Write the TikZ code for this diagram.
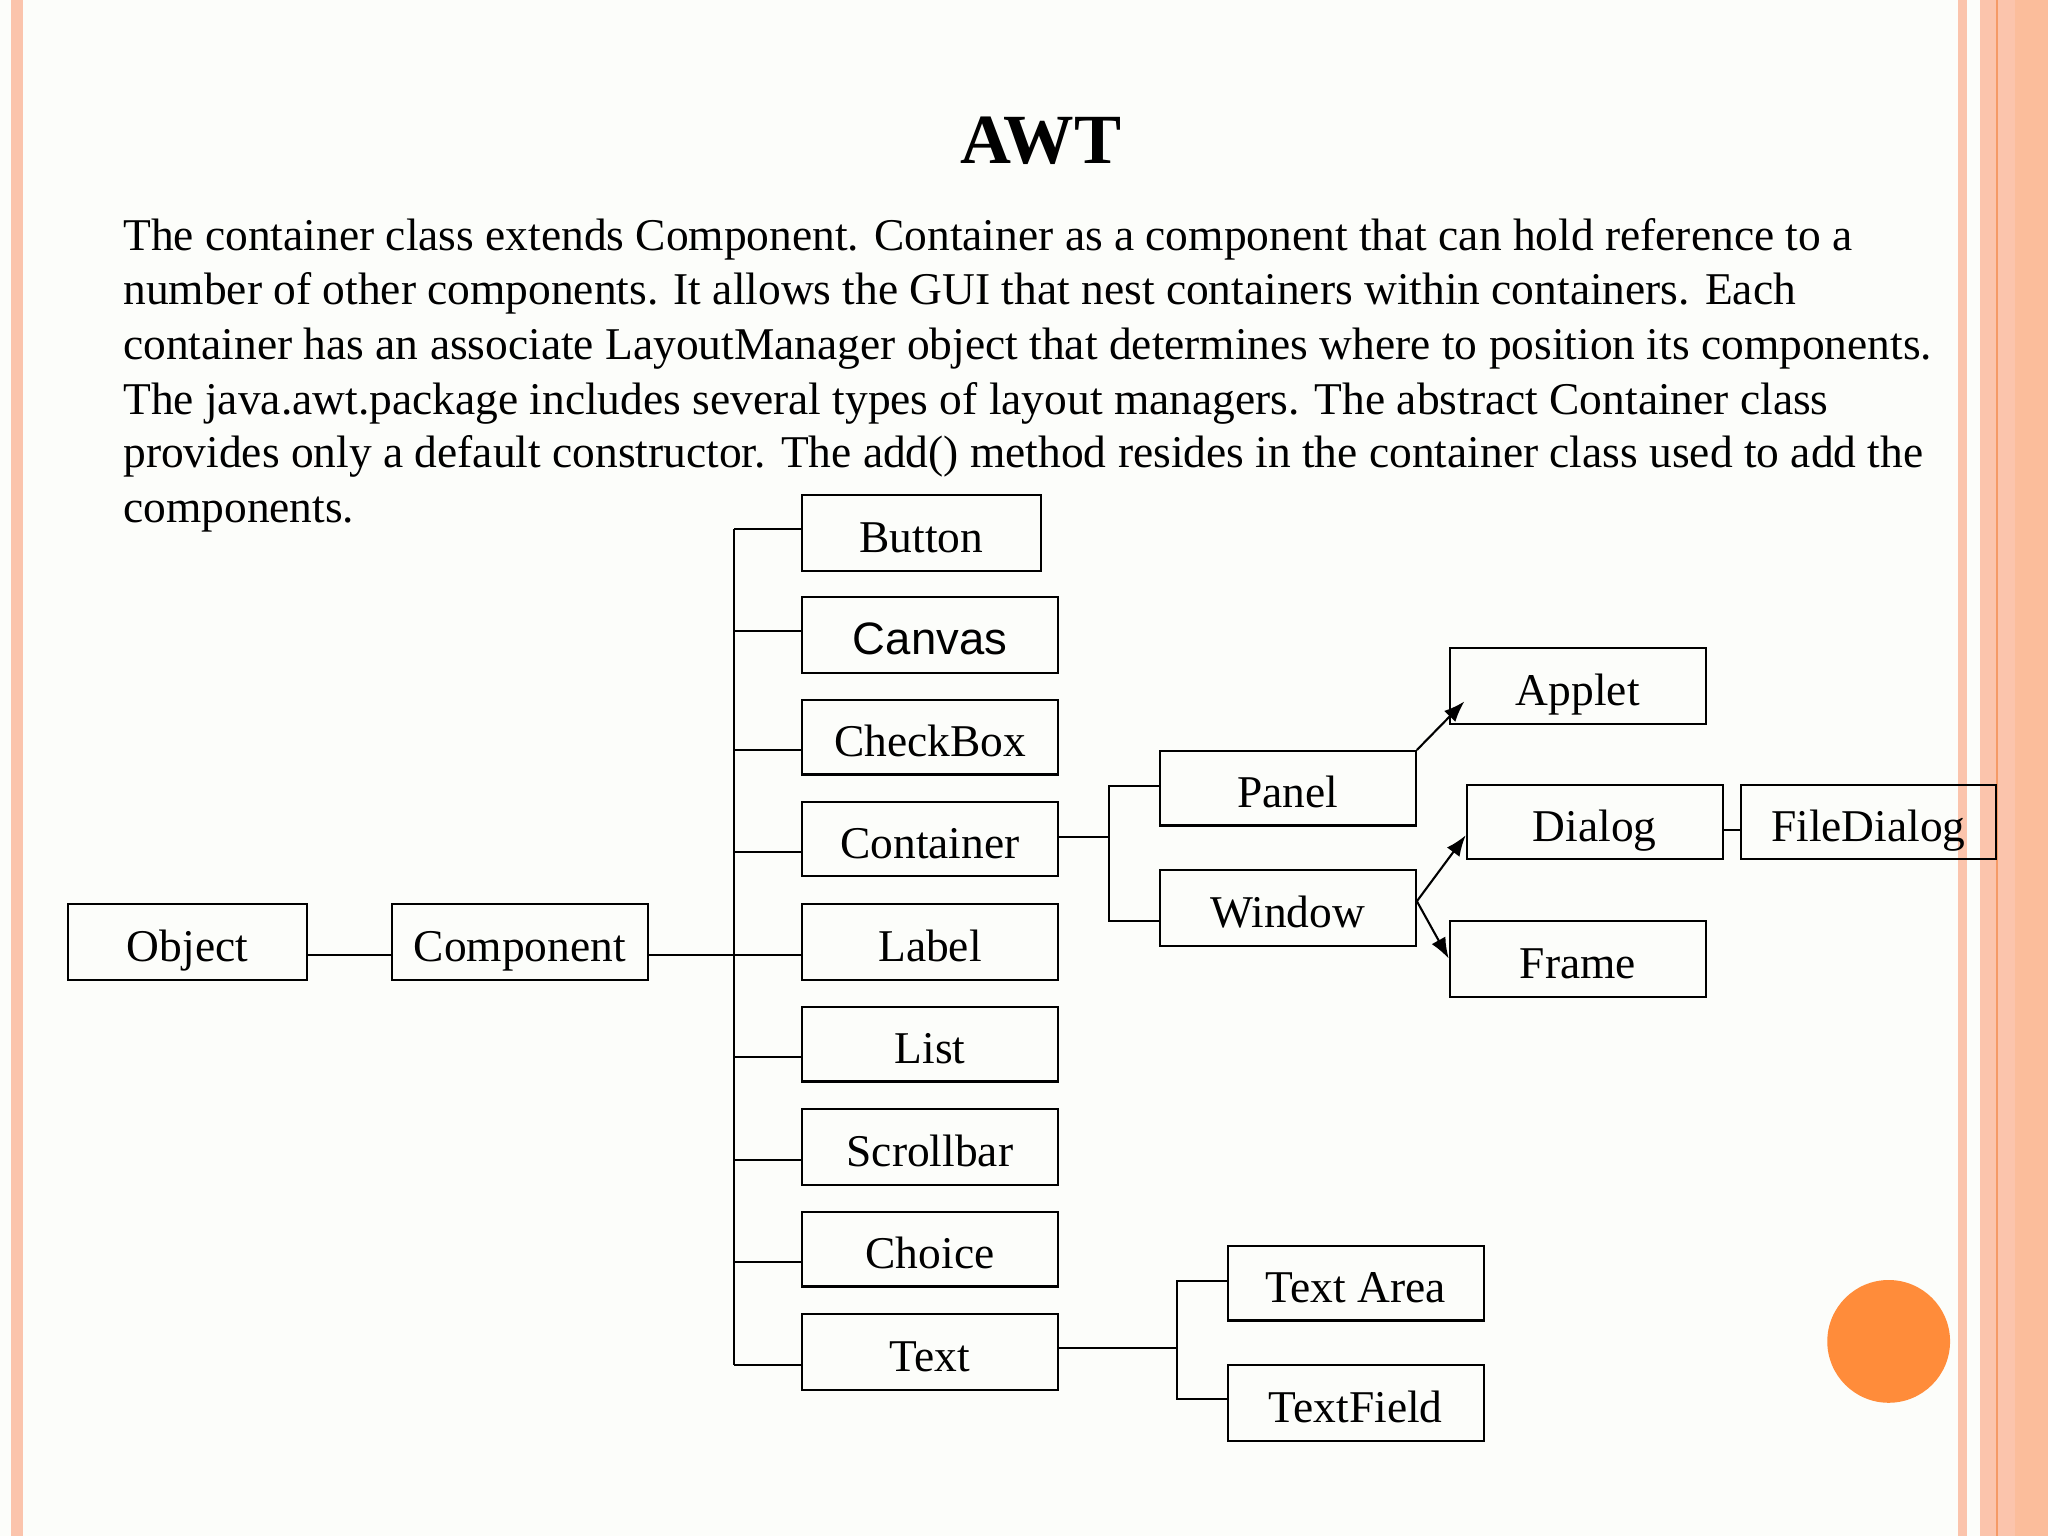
\documentclass[tikz,border=0pt]{standalone}
\usepackage{fontspec}
\setmainfont{Liberation Serif}
\newfontfamily\sansf{Liberation Sans}
\definecolor{bg}{HTML}{FCFDFA}
\definecolor{stripe}{HTML}{FBC4AC}
\definecolor{oline}{HTML}{F59A66}
\definecolor{dot}{HTML}{FF8C3A}
\usetikzlibrary{arrows.meta}
\newcommand{\bx}[6]{\node[box, minimum width={(#4-#2)*0.5pt}, minimum height={(#5-#3)*0.5pt}] (#1) at ({(#2+#4)/2},{(#3+#5)/2}) {#6};}
\begin{document}
\begin{tikzpicture}[x=0.5pt,y=-0.5pt,
  box/.style={draw, line width=0.8pt, inner sep=0pt, text height=15pt, text depth=0pt, font=\fontsize{17.4}{20}\selectfont},
  ln/.style={line width=0.8pt},
  arr/.style={line width=0.8pt,-{Latex[length=8pt,width=6pt]}},
  body/.style={anchor=base west, inner sep=0pt, font=\fontsize{17.4}{21}\selectfont}]
\fill[bg] (0,0) rectangle (1568,1176);
\useasboundingbox (0,0) rectangle (1568,1176);
\fill[stripe] (8.5,0) rectangle (17.6,1176);
\fill[stripe] (1499,0) rectangle (1506,1176);
\fill[stripe] (1516,0) rectangle (1568,1176);
\fill[oline] (1528.5,0) rectangle (1530,1176);
\fill[stripe!90!orange] (1543,0) rectangle (1568,1176);
\node[font=\fontsize{27}{30}\selectfont\bfseries] (title) at (797,108) {AWT};
\node[body] (l1) at (94,192) {The container class extends Component. Container as a component that can hold reference to a};
\node[body] (l2) at (94,233) {number of other components. It allows the GUI that nest containers within containers. Each};
\node[body] (l3) at (94,275) {container has an associate LayoutManager object that determines where to position its components.};
\node[body] (l4) at (94,317) {The java.awt.package includes several types of layout managers. The abstract Container class};
\node[body] (l5) at (94,358) {provides only a default constructor. The add() method resides in the container class used to add the};
\node[body] (l6) at (94,400) {components.};
\bx{obj}{52}{692}{235}{750}{Object}
\bx{comp}{300}{692}{496}{750}{Component}
\bx{bt}{614}{379}{797}{437}{Button}
\bx{cv}{614}{457}{810}{515}{\sansf Canvas}
\bx{cb}{614}{536}{810}{593}{CheckBox}
\bx{ct}{614}{614}{810}{671}{Container}
\bx{lb}{614}{692}{810}{750}{Label}
\bx{ls}{614}{771}{810}{828}{List}
\bx{sb}{614}{849}{810}{907}{Scrollbar}
\bx{ch}{614}{928}{810}{985}{Choice}
\bx{tx}{614}{1006}{810}{1064}{Text}
\bx{pn}{888}{575}{1084}{632}{Panel}
\bx{wn}{888}{666}{1084}{724}{Window}
\bx{ap}{1110}{496}{1306}{554}{Applet}
\bx{dg}{1123}{601}{1319}{658}{Dialog}
\bx{fd}{1333}{601}{1528}{658}{FileDialog}
\bx{fr}{1110}{705}{1306}{763}{Frame}
\bx{ta}{940}{954}{1136}{1011}{Text Area}
\bx{tf}{940}{1045}{1136}{1103}{TextField}
\coordinate (bus) at (562,0);
\coordinate (cbus) at (849,0);
\coordinate (tbus) at (901,0);
\draw[ln] ([yshift=-5pt]obj.east) -- ([yshift=-5pt]comp.west);
\draw[ln] ([yshift=-5pt]comp.east) -- ([yshift=-5pt]comp.east -| bus);
\foreach \b in {bt,cv} \draw[ln] ([yshift=1.5pt]\b.west) -- ([yshift=1.5pt]\b.west -| bus);
\foreach \b in {cb,ct,lb,ls,sb,ch,tx} \draw[ln] ([yshift=-5pt]\b.west) -- ([yshift=-5pt]\b.west -| bus);
\draw[ln] ([yshift=1.5pt]bt.west -| bus) -- ([yshift=-5pt]tx.west -| bus);
\draw[ln] ([yshift=1pt]ct.east) -- ([yshift=1pt]ct.east -| cbus);
\draw[ln] ([yshift=1pt]pn.west) -| ([yshift=-5pt]cbus |- wn.west) -- ([yshift=-5pt]wn.west);
\draw[ln] ([yshift=1.5pt]tx.east) -- ([yshift=1.5pt]tx.east -| tbus);
\draw[ln] ([yshift=1pt]ta.west) -| ([yshift=1.5pt]tbus |- tf.west) -- ([yshift=1.5pt]tf.west);
\draw[arr] (pn.north east) -- ([xshift=6pt,yshift=-6pt]ap.west);
\draw[arr] ([yshift=2.5pt]wn.east) -- ([yshift=-5pt]dg.west);
\draw[arr] ([yshift=2.5pt]wn.east) -- (fr.west);
\draw[ln] ([yshift=-3pt]dg.east) -- ([yshift=-3pt]fd.west);
\fill[dot] (1446,1027) circle (47);
\end{tikzpicture}
\end{document}
